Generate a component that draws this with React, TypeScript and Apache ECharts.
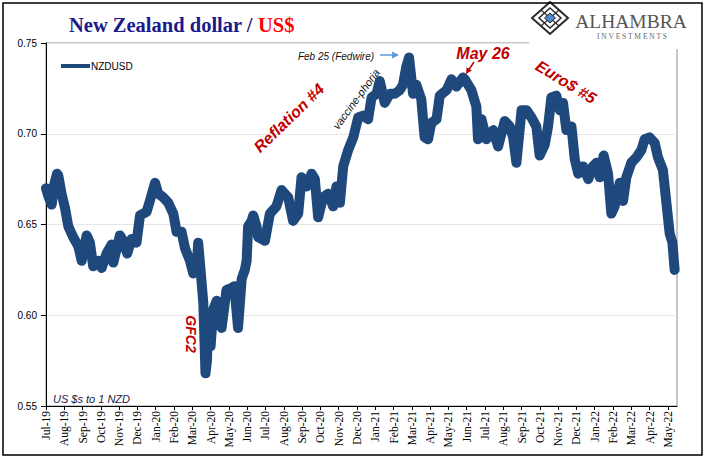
import React, { useEffect, useRef } from 'react';
import * as echarts from 'echarts';

// Month tick labels (one per month from Jul-19, index 0)
const monthLabels = [
  'Jul-19', 'Aug-19', 'Sep-19', 'Oct-19', 'Nov-19', 'Dec-19',
  'Jan-20', 'Feb-20', 'Mar-20', 'Apr-20', 'May-20', 'Jun-20', 'Jul-20', 'Aug-20', 'Sep-20', 'Oct-20', 'Nov-20', 'Dec-20',
  'Jan-21', 'Feb-21', 'Mar-21', 'Apr-21', 'May-21', 'Jun-21', 'Jul-21', 'Aug-21', 'Sep-21', 'Oct-21', 'Nov-21', 'Dec-21',
  'Jan-22', 'Feb-22', 'Mar-22', 'Apr-22', 'May-22',
];

// Sample positions, in months since 1 Jul 2019
const samplePos = [
  0.00, 0.15, 0.31, 0.45, 0.60, 0.67, 0.85, 1.04, 1.22, 1.49, 1.77, 1.95, 2.22, 2.40, 2.58, 2.86,
  3.04, 3.31, 3.59, 3.68, 4.04, 4.22, 4.44, 4.68, 4.95, 5.14, 5.50, 5.68, 5.96, 6.14, 6.41, 6.68,
  6.96, 7.14, 7.41, 7.60, 7.87, 8.05, 8.25, 8.32, 8.45, 8.60, 8.72, 8.80, 8.87, 9.00, 9.14, 9.33,
  9.60, 9.87, 10.15, 10.30, 10.50, 10.70, 10.87, 10.97, 11.05, 11.24, 11.33, 11.51, 11.60, 11.97,
  12.24, 12.60, 12.88, 13.24, 13.51, 13.79, 13.97, 14.25, 14.52, 14.70, 14.88, 15.15, 15.43, 15.70,
  15.88, 16.07, 16.25, 16.52, 16.80, 17.07, 17.34, 17.61, 17.80, 18.07, 18.25, 18.52, 18.80, 19.07,
  19.34, 19.52, 19.70, 19.85, 20.07, 20.25, 20.52, 20.70, 20.89, 21.07, 21.35, 21.53, 21.90, 22.17,
  22.44, 22.80, 22.90, 23.26, 23.53, 23.62, 23.81, 24.08, 24.45, 24.72, 25.08, 25.36, 25.54, 25.72,
  26.00, 26.27, 26.54, 26.81, 26.99, 27.27, 27.45, 27.63, 27.90, 28.09, 28.27, 28.45, 28.73, 28.91,
  29.10, 29.37, 29.65, 29.90, 30.10, 30.27, 30.49, 30.73, 30.91, 31.09, 31.37, 31.55, 31.73, 32.00,
  32.28, 32.55, 32.73, 33.00, 33.28, 33.46, 33.73, 33.92, 34.10, 34.25, 34.37,
];

// NZDUSD values (US$ per 1 NZD)
const nzdusd = [
  0.670, 0.665, 0.661, 0.672, 0.678, 0.677, 0.667, 0.659, 0.649, 0.643, 0.638, 0.630, 0.644, 0.640, 0.627, 0.630,
  0.626, 0.634, 0.639, 0.629, 0.644, 0.641, 0.634, 0.642, 0.640, 0.655, 0.657, 0.663, 0.673, 0.667, 0.665, 0.662,
  0.656, 0.646, 0.646, 0.637, 0.630, 0.623, 0.628, 0.640, 0.625, 0.607, 0.568, 0.575, 0.599, 0.583, 0.603, 0.608,
  0.593, 0.614, 0.615, 0.616, 0.593, 0.620, 0.625, 0.630, 0.649, 0.652, 0.655, 0.649, 0.643, 0.641,
  0.656, 0.660, 0.669, 0.665, 0.652, 0.656, 0.676, 0.671, 0.678, 0.675, 0.654, 0.665, 0.667, 0.660,
  0.671, 0.662, 0.682, 0.691, 0.698, 0.709, 0.710, 0.708, 0.720, 0.722, 0.729, 0.717, 0.722, 0.722,
  0.724, 0.727, 0.737, 0.742, 0.722, 0.727, 0.719, 0.698, 0.697, 0.706, 0.708, 0.721, 0.724, 0.730,
  0.726, 0.731, 0.730, 0.724, 0.715, 0.697, 0.708, 0.697, 0.702, 0.693, 0.707, 0.704, 0.698, 0.684,
  0.713, 0.713, 0.709, 0.704, 0.688, 0.694, 0.704, 0.720, 0.721, 0.713, 0.717, 0.702, 0.704, 0.686,
  0.678, 0.682, 0.675, 0.682, 0.684, 0.676, 0.688, 0.678, 0.656, 0.660, 0.673, 0.663, 0.676, 0.684,
  0.687, 0.691, 0.697, 0.698, 0.695, 0.687, 0.680, 0.662, 0.645, 0.640, 0.625,
];

const yMin = 0.55;
const yMax = 0.75;
const yStep = 0.05;
const xMax = 34.5;

const SANS = '"Liberation Sans", Arial, sans-serif';
const SERIF = '"Liberation Serif", "Times New Roman", serif';
const RED = '#c00000';

export default function App() {
  const ref = useRef<HTMLDivElement>(null);

  useEffect(() => {
    if (!ref.current) return;
    const chart = echarts.init(ref.current, undefined, { renderer: 'svg' });

    const data = samplePos.map((m, i) => [m, nzdusd[i]]);

    const cx = 550;
    const cy = 18;

    const option: any = {
      animation: false,
      backgroundColor: '#ffffff',
      title: {
        left: 64,
        top: 9,
        text: '{a|New Zealand dollar / }{b|US$}',
        textStyle: {
          rich: {
            a: { fontFamily: SERIF, fontSize: 20.5, color: '#1a1a8c' },
            b: { fontFamily: SERIF, fontSize: 20.5, color: '#ff0000', fontWeight: 'bold' },
          },
        },
      },
      legend: {
        left: 56,
        top: 56,
        itemWidth: 29,
        itemHeight: 4,
        itemGap: 4,
        textStyle: { fontFamily: SANS, fontSize: 10, color: '#000', padding: [0, 0, 0, -4] },
        data: [{ name: 'NZDUSD', icon: 'rect', itemStyle: { color: '#1f497d' } }],
      },
      grid: {
        left: 46,
        right: 28,
        top: 43,
        bottom: 55,
        show: true,
        borderColor: '#8c8c8c',
        borderWidth: 1,
        backgroundColor: 'transparent',
      },
      xAxis: {
        type: 'value',
        min: 0,
        max: xMax,
        interval: 1,
        axisLine: { show: true, onZero: false, lineStyle: { color: '#000', width: 1 } },
        axisTick: { show: true, length: 4, lineStyle: { color: '#000' } },
        splitLine: { show: false },
        axisLabel: {
          rotate: 90,
          margin: 5,
          showMaxLabel: false,
          fontFamily: SERIF,
          fontSize: 11.5,
          color: '#000',
          formatter: (v: number) => (Number.isInteger(v) ? monthLabels[v] ?? '' : ''),
        },
      },
      yAxis: {
        type: 'value',
        min: yMin,
        max: yMax,
        interval: yStep,
        axisLine: { show: true, lineStyle: { color: '#000', width: 1 } },
        axisTick: { show: true, length: 5, lineStyle: { color: '#000' } },
        splitLine: { show: true, lineStyle: { color: '#e6e6e6', width: 1 } },
        axisLabel: {
          margin: 9,
          fontFamily: SANS,
          fontSize: 10,
          color: '#000',
          formatter: (v: number) => v.toFixed(2),
        },
      },
      visualMap: {
        type: 'continuous',
        show: false,
        seriesIndex: 0,
        dimension: 1,
        min: 0.565,
        max: 0.63,
        inRange: { color: ['#4d2a58', '#1f497d'] },
      },
      series: [
        {
          name: 'NZDUSD',
          type: 'line',
          data,
          showSymbol: false,
          symbol: 'none',
          lineStyle: { width: 10, cap: 'round', join: 'round', color: '#1f497d' },
          itemStyle: { color: '#1f497d' },
          z: 3,
        },
      ],
      graphic: [
        // outer frame
        {
          type: 'rect',
          z: 100,
          shape: { x: 3, y: 3, width: 699, height: 452 },
          style: { fill: 'none', stroke: '#000', lineWidth: 1.5 },
        },
        // logo background
        {
          type: 'rect',
          z: 90,
          shape: { x: 529, y: 5, width: 171, height: 44 },
          style: { fill: '#ffffff' },
        },
        // logo diamond lattice
        {
          type: 'polygon',
          z: 95,
          shape: { points: [[cx, cy - 16], [cx + 18, cy], [cx, cy + 16], [cx - 18, cy]] },
          style: { fill: 'none', stroke: '#2a2a2a', lineWidth: 2 },
        },
        {
          type: 'polygon',
          z: 95,
          shape: { points: [[cx, cy - 10], [cx + 11, cy], [cx, cy + 10], [cx - 11, cy]] },
          style: { fill: 'none', stroke: '#2a2a2a', lineWidth: 1.5 },
        },
        {
          type: 'line',
          z: 95,
          shape: { x1: cx - 9, y1: cy - 8, x2: cx + 9, y2: cy + 8 },
          style: { stroke: '#2a2a2a', lineWidth: 1.2 },
        },
        {
          type: 'line',
          z: 95,
          shape: { x1: cx + 9, y1: cy - 8, x2: cx - 9, y2: cy + 8 },
          style: { stroke: '#2a2a2a', lineWidth: 1.2 },
        },
        {
          type: 'polygon',
          z: 96,
          shape: { points: [[cx, cy - 5], [cx + 5.5, cy], [cx, cy + 5], [cx - 5.5, cy]] },
          style: { fill: '#4f86d0', stroke: '#2a2a2a', lineWidth: 1 },
        },
        {
          type: 'text',
          z: 95,
          x: 631,
          y: 21,
          style: {
            text: 'ALHAMBRA',
            fontFamily: SERIF,
            fontSize: 19.5,
            fill: '#555555',
            align: 'center',
            verticalAlign: 'middle',
          },
        },
        {
          type: 'text',
          z: 95,
          x: 632,
          y: 36,
          style: {
            text: 'I N V E S T M E N T S',
            fontFamily: SERIF,
            fontSize: 7.5,
            fill: '#666666',
            align: 'center',
            verticalAlign: 'middle',
          },
        },
        // annotations
        {
          type: 'text',
          z: 50,
          x: 53,
          y: 399,
          style: {
            text: 'US $s to 1 NZD',
            fontFamily: SANS,
            fontStyle: 'italic',
            fontSize: 11,
            fill: '#1a1a40',
            align: 'left',
            verticalAlign: 'middle',
          },
        },
        {
          type: 'text',
          z: 50,
          x: 191,
          y: 334,
          rotation: -Math.PI / 2,
          style: {
            text: 'GFC2',
            fontFamily: SANS,
            fontStyle: 'italic',
            fontWeight: 'bold',
            fontSize: 14,
            fill: RED,
            align: 'center',
            verticalAlign: 'middle',
          },
        },
        {
          type: 'text',
          z: 50,
          x: 289,
          y: 118,
          rotation: 0.77,
          style: {
            text: 'Reflation #4',
            fontFamily: SANS,
            fontStyle: 'italic',
            fontWeight: 'bold',
            fontSize: 16,
            fill: RED,
            align: 'center',
            verticalAlign: 'middle',
          },
        },
        {
          type: 'text',
          z: 50,
          x: 356,
          y: 99,
          rotation: 0.94,
          style: {
            text: 'vaccine-phoria',
            fontFamily: SANS,
            fontStyle: 'italic',
            fontSize: 11,
            fill: '#111',
            align: 'center',
            verticalAlign: 'middle',
          },
        },
        {
          type: 'text',
          z: 50,
          x: 336,
          y: 56,
          style: {
            text: 'Feb 25 (Fedwire)',
            fontFamily: SANS,
            fontStyle: 'italic',
            fontSize: 10,
            fill: '#111',
            align: 'center',
            verticalAlign: 'middle',
          },
        },
        {
          type: 'line',
          z: 50,
          shape: { x1: 380, y1: 55, x2: 393, y2: 55 },
          style: { stroke: '#5b9bd5', lineWidth: 1.5 },
        },
        {
          type: 'polygon',
          z: 50,
          shape: { points: [[392, 51.5], [399, 55], [392, 58.5]] },
          style: { fill: '#5b9bd5' },
        },
        {
          type: 'text',
          z: 50,
          x: 483,
          y: 53,
          style: {
            text: 'May 26',
            fontFamily: SANS,
            fontStyle: 'italic',
            fontWeight: 'bold',
            fontSize: 16,
            fill: RED,
            align: 'center',
            verticalAlign: 'middle',
          },
        },
        {
          type: 'line',
          z: 50,
          shape: { x1: 474, y1: 62, x2: 469, y2: 69.5 },
          style: { stroke: RED, lineWidth: 1.5 },
        },
        {
          type: 'polygon',
          z: 50,
          shape: { points: [[471.8, 70.6], [466, 74], [466.6, 67.3]] },
          style: { fill: RED },
        },
        {
          type: 'text',
          z: 50,
          x: 566,
          y: 82,
          rotation: -0.55,
          style: {
            text: 'Euro$ #5',
            fontFamily: SANS,
            fontStyle: 'italic',
            fontWeight: 'bold',
            fontSize: 16,
            fill: RED,
            align: 'center',
            verticalAlign: 'middle',
          },
        },
      ],
    };

    chart.setOption(option);
    return () => {
      chart.dispose();
    };
  }, []);

  return (
    <div
      ref={ref}
      style={{ position: 'fixed', left: 0, top: 0, width: 705, height: 461, background: '#fff' }}
    />
  );
}
